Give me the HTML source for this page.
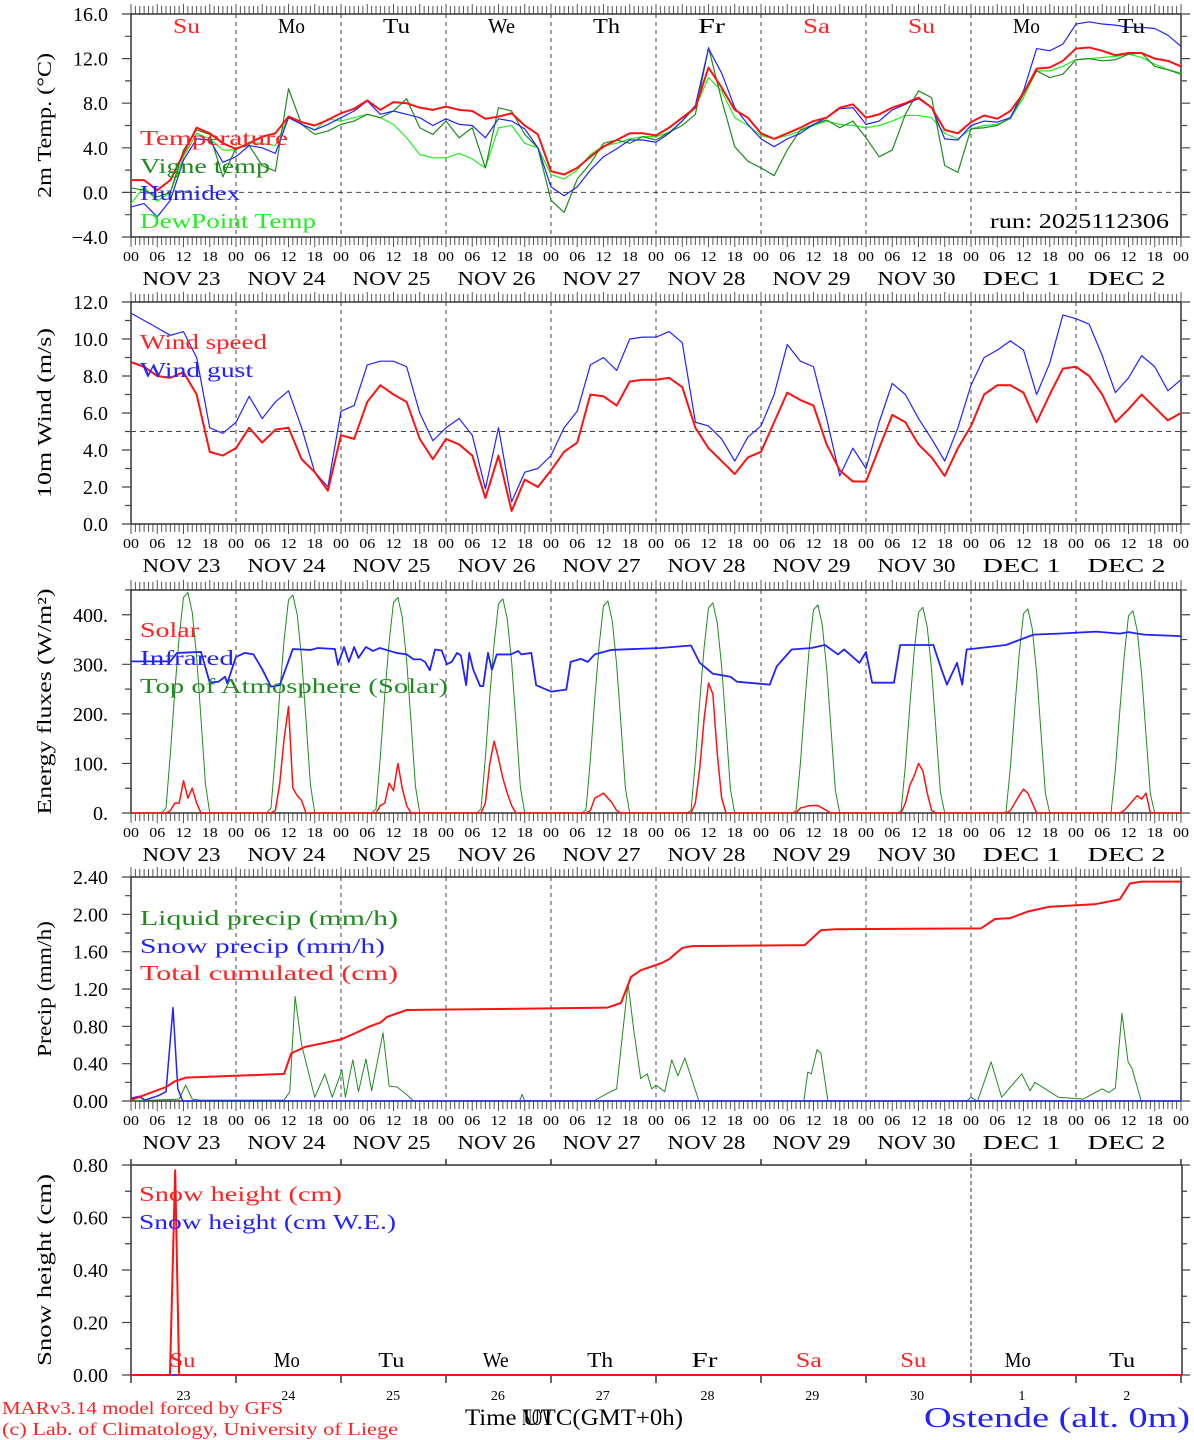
<!DOCTYPE html>
<html><head><meta charset="utf-8">
<style>
html,body{margin:0;padding:0;background:#fff;}
svg{display:block;}
text{font-family:"Liberation Serif",serif;}
</style></head>
<body>
<svg id="chart" width="1194" height="1440" viewBox="0 0 1194 1440" xmlns="http://www.w3.org/2000/svg"></svg>
<script>
// ===== DATA =====
// 3-hourly series, hour = 3*i, i = 0..80 (Nov 23 00 UTC -> Dec 3 00 UTC)
const tempT = [1.1,1.1,0.2,1.1,3.5,5.8,5.3,4.4, 3.9,4.4,5.0,5.3,6.8,6.3,6.0,6.5, 7.1,7.5,8.25,7.4,8.1,8.0,7.6,7.4, 7.7,7.4,7.3,6.6,6.8,7.1,6.0,5.2, 1.9,1.6,2.2,3.2,4.1,4.7,5.3,5.3, 5.1,5.8,6.7,7.6,11.2,9.4,7.4,6.7, 5.3,4.8,5.3,5.8,6.4,6.7,7.6,7.9, 6.7,7.0,7.6,8.0,8.5,7.6,5.6,5.3, 6.3,6.9,6.6,7.3,8.9,11.1,11.2,11.8, 12.9,13.0,12.7,12.3,12.5,12.5,12.0,11.8,11.3];
const tempVigne = [0.4,0.2,-0.4,0.0,3.8,5.6,5.2,1.4, 4.0,4.2,2.4,1.9,9.3,6.1,5.2,5.5, 6.1,6.4,7.0,6.7,7.3,8.4,5.8,5.2, 6.4,4.9,5.8,2.2,7.6,7.3,5.2,4.0, -0.7,-1.8,1.2,2.6,4.4,4.7,4.4,5.0, 4.7,5.4,6.0,7.0,13.0,8.3,4.1,2.8, 2.2,1.5,3.8,5.6,6.1,6.5,5.8,6.4, 4.9,3.2,3.8,7.0,9.1,8.5,2.4,1.8, 5.7,5.8,6.0,6.7,8.8,10.9,10.3,10.6, 11.9,12.0,11.8,11.9,12.4,12.5,11.3,11.0,10.6];
const humidex = [-1.3,-1.0,-2.2,-0.7,2.9,4.8,4.7,2.7, 3.2,4.2,4.0,3.5,6.7,6.1,5.6,6.1, 6.7,7.3,8.2,7.0,7.3,7.0,6.7,6.0, 6.6,6.1,6.0,4.9,6.6,6.4,5.7,4.0, 0.5,-0.3,0.5,2.0,3.2,3.9,4.7,4.7, 4.5,5.3,6.4,7.8,12.9,10.7,7.6,6.1, 4.8,4.1,4.8,5.3,6.1,6.7,7.5,7.6, 6.1,6.4,7.4,7.9,8.4,7.6,4.8,4.7, 6.0,6.4,6.3,6.7,9.1,12.9,12.7,13.3, 15.1,15.3,15.1,15.0,14.8,14.8,14.7,14.1,13.1];
const dewPoint = [-1.0,0.5,-0.8,0.0,3.2,5.3,4.8,3.8, 3.8,4.5,4.4,4.2,6.8,6.1,5.6,6.6, 6.4,6.7,7.0,6.7,6.1,4.9,3.4,3.1, 3.1,3.5,3.0,2.2,5.8,6.0,4.4,4.0, 1.6,1.2,2.0,3.4,4.2,4.4,4.8,5.0, 5.0,5.4,6.4,7.6,10.3,9.1,6.7,6.0, 5.1,4.8,5.1,5.5,6.0,6.4,6.1,6.0, 5.8,6.0,6.4,6.9,6.9,6.7,5.3,4.8, 5.7,6.0,6.1,6.6,8.5,10.9,10.9,11.3, 11.9,12.0,12.1,12.2,12.4,12.1,11.5,11.0,10.7];
const windSpeed = [8.75,8.5,8.0,7.9,8.2,7.0,3.9,3.7, 4.1,5.2,4.4,5.1,5.2,3.5,2.8,1.8, 4.8,4.6,6.6,7.5,7.0,6.6,4.6,3.5, 4.6,4.3,3.7,1.4,3.7,0.7,2.4,2.0, 2.9,3.9,4.4,7.0,6.9,6.4,7.7,7.8, 7.8,7.9,7.4,5.2,4.1,3.4,2.7,3.6, 3.9,5.5,7.1,6.7,6.4,4.3,2.9,2.3, 2.3,4.1,5.9,5.5,4.3,3.6,2.6,4.1, 5.3,7.0,7.5,7.5,7.1,5.5,7.0,8.4, 8.5,8.0,7.0,5.5,6.2,7.0,6.3,5.6,6.0];
const windGust = [11.4,11.0,10.6,10.2,10.4,9.0,5.2,4.9, 5.5,6.9,5.7,6.6,7.2,5.2,2.8,2.0, 6.1,6.4,8.6,8.8,8.8,8.5,6.0,4.5, 5.2,5.7,4.8,1.9,5.2,1.2,2.8,3.0, 3.7,5.2,6.1,8.6,9.0,8.3,10.0,10.1, 10.1,10.4,9.8,5.5,5.3,4.6,3.4,4.7, 5.3,7.0,9.7,8.8,8.5,5.7,2.6,4.1, 3.0,5.5,7.6,7.0,5.7,4.6,3.4,5.2, 7.5,9.0,9.4,9.9,9.4,7.0,8.7,11.3, 11.1,10.8,9.1,7.1,7.9,9.1,8.5,7.2,7.8];
// Hourly radiation per day, hours 7..18 UTC
const toaDaily = [
 [0,10,120,245,355,435,445,405,315,190,60,0],
 [0,10,118,242,350,430,440,400,312,188,58,0],
 [0,8,115,238,345,425,435,395,308,185,55,0],
 [0,8,112,235,342,422,432,392,305,182,52,0],
 [0,6,108,230,338,418,428,388,300,178,50,0],
 [0,5,105,225,334,414,424,384,296,175,48,0],
 [0,4,100,220,330,410,420,380,292,170,45,0],
 [0,3,96,215,325,405,415,375,288,166,42,0],
 [0,2,92,210,320,402,412,372,284,162,40,0],
 [0,0,88,205,315,398,408,368,280,158,38,0]];
const solarDaily = [
 [0,0,5,20,20,65,30,50,20,0,0,0],
 [0,0,5,60,150,215,50,35,25,0,0,0],
 [0,0,15,20,60,45,100,50,15,0,0,0],
 [0,0,20,100,145,110,70,40,15,0,0,0],
 [0,0,5,30,35,40,30,20,5,0,0,0],
 [0,0,20,90,190,262,240,120,30,0,0,0],
 [0,0,10,12,15,15,15,10,5,0,0,0],
 [0,0,20,55,75,100,85,40,5,0,0,0],
 [0,0,5,20,35,48,40,20,0,0,0,0],
 [0,0,0,0,5,15,25,35,28,40,0,0]];
const irHours = [0,9,10.5,16,18,20,21.5,22,24,26,28,30,32,34,37,41,42.7,46.6,47.3,48.7,49.8,51,52,53.7,55.3,56.9,60.7,63,64.6,66.2,67.2,68.3,69.5,71,72.2,73.3,74.5,75.4,76.6,77.3,78.2,79.8,80.5,81.6,82.5,83.6,86.8,88.5,89.2,91.5,92.6,96,99.5,100.5,102.8,104.4,106,109.7,121,128,130,133,137,138.5,146,147.6,151,155.5,158.6,161.6,163,166.5,168,169.4,174.4,175.8,183.4,185,186.5,188.8,190,191,200,206.3,212,220.6,226,228,231.5,240];
const irValues = [306,306,323,325,263,265,275,262,315,323,320,290,255,258,331,329,333,331,299,335,305,335,313,335,327,333,323,320,310,310,305,288,330,328,300,305,323,318,258,323,290,256,256,323,289,320,320,327,320,323,258,245,249,305,311,305,320,329,333,338,303,281,275,265,259,296,330,333,339,320,330,303,325,263,263,339,339,296,259,303,259,330,339,360,362,366,362,365,360,357];
const liqHours = [0,11,12.5,14,16,35,36.3,37.5,39,42,44.3,46,48.2,49,50.7,52,53.7,55,57.6,59,60.8,63,64.6,88.8,89.4,90,105.8,108.8,111,113.6,115,116.5,118,119,120,122,123.6,125,126.6,129.8,153.8,154.7,155.5,156.8,157.7,159.3,191,192,193.5,196.6,199,203.6,205.5,206.6,212,217.6,222,223.5,225,226.5,227.9,228.8,230.9,240];
const liqValues = [0,0.02,0.17,0.02,0.01,0.01,0.1,1.12,0.6,0.04,0.29,0.04,0.33,0.04,0.44,0.10,0.45,0.11,0.73,0.16,0.15,0.07,0,0,0.07,0,0,0.08,0.13,1.26,0.73,0.24,0.29,0.13,0.17,0.10,0.44,0.27,0.46,0,0,0.31,0.29,0.55,0.51,0,0,0.04,0,0.42,0.04,0.29,0.11,0.20,0.04,0.02,0.13,0.09,0.14,0.94,0.42,0.35,0,0];
const snowHours = [0,1.8,3.2,6.4,8,9.6,10.7,11.8,240];
const snowValues = [0.03,0.05,0.01,0.06,0.10,1.0,0.13,0,0];
const totHours = [0,8,10,12.5,35,36.6,39.8,45,48,51.4,54.6,57,58.5,63,73,108.8,112,114.3,116.5,121.4,123,126,128.3,154,157.7,161,194.3,197.5,201,205,209.8,220.5,226,228.3,231,240];
const totValues = [0.01,0.15,0.21,0.25,0.29,0.51,0.58,0.63,0.66,0.73,0.80,0.84,0.90,0.975,0.98,1.00,1.05,1.33,1.40,1.48,1.52,1.64,1.66,1.67,1.83,1.84,1.85,1.95,1.96,2.03,2.08,2.11,2.16,2.33,2.35,2.35];
const snowHeightHours = [0,8.9,10.1,11,240];
const snowHeightValues = [0,0,0.78,0,0];
const snowWEHours = [0,240];
const snowWEValues = [0,0];
const dayNames = ["Su","Mo","Tu","We","Th","Fr","Sa","Su","Mo","Tu"];
const dateLabels = ["NOV  23","NOV  24","NOV  25","NOV  26","NOV  27","NOV  28","NOV  29","NOV  30","DEC   1","DEC   2"];
const dayNumbers = ["23","24","25","26","27","28","29","30","1","2"];
const hourLabels = ["00","06","12","18"];

// ===== DRAW =====
const NS="http://www.w3.org/2000/svg";
const svg=document.getElementById('chart');
const X0=131, PXH=4.375;
function xh(h){return X0+h*PXH;}
function mk(tag,attrs,parent){const e=document.createElementNS(NS,tag);for(const k in attrs)e.setAttribute(k,attrs[k]);(parent||svg).appendChild(e);return e;}
const panels=[
 {name:'temperature',top:14,bot:237,min:-4,max:16,major:4,minor:2,dec:1,title:'2m Temp. (\u00B0C)',tl:145},
 {name:'wind',top:302,bot:524,min:0,max:12,major:2,minor:1,dec:1,title:'10m Wind (m/s)',tl:170},
 {name:'energy',top:590,bot:813,min:0,max:450,major:100,minor:50,dec:-1,title:'Energy fluxes (W/m\u00B2)',tl:226},
 {name:'precip',top:877,bot:1101,min:0,max:2.4,major:0.4,minor:0.2,dec:2,title:'Precip (mm/h)',tl:136},
 {name:'snow',top:1165,bot:1375,min:0,max:0.8,major:0.2,minor:0.1,dec:2,title:'Snow height (cm)',tl:192}];
function yf(p){return v=>p.bot-(v-p.min)/(p.max-p.min)*(p.bot-p.top);}
function fmt(v,dec){if(dec<0)return Math.round(v)+'.';let s=Math.abs(v).toFixed(dec);return (v<-1e-9?'\u2212':'')+s;}

function text(str,x,y,size,color,anchor,name,extra){
  const a=Object.assign({x:x,y:y,'font-size':size,fill:color||'#000','text-anchor':anchor||'start'},extra||{});
  if(a.textLength)a.lengthAdjust='spacingAndGlyphs';
  const t=mk('text',a);
  
  
  t.setAttribute('xml:space','preserve');
  t.textContent=str;return t;
}
function polyline(hours,vals,p,color,w,name){
  const y=yf(p);let d='';
  for(let i=0;i<vals.length;i++){d+=(i?'L':'M')+xh(hours[i]).toFixed(2)+','+y(vals[i]).toFixed(2);}
  const e=mk('path',{d:d,fill:'none',stroke:color,'stroke-width':w,'stroke-linejoin':'round'});
  
  
  return e;
}
function series3h(vals,p,color,w,name){return polyline(vals.map((v,i)=>3*i),vals,p,color,w,name);}
function seriesDaily(rows,p,color,w,name){
  const hs=[],vs=[];hs.push(0);vs.push(0);
  rows.forEach((r,d)=>r.forEach((v,k)=>{hs.push(d*24+7+k);vs.push(v);}));
  hs.push(240);vs.push(0);
  return polyline(hs,vs,p,color,w,name);
}

panels.forEach((p,pi)=>{
  const g=mk('g',{});
  
  
  const y=yf(p);
  if(pi<4){
    for(let d=1;d<10;d++){const l=mk('line',{x1:xh(d*24),x2:xh(d*24),y1:p.top,y2:p.bot,stroke:'#444','stroke-width':1,'stroke-dasharray':'4,4'},g);
      }
    let d='';for(let h=0;h<=240;h++){const L=(h%6==0)?10:8;d+='M'+xh(h)+','+(p.top-L)+'V'+p.top+'M'+xh(h)+','+p.bot+'V'+(p.bot+L);}
    const tk=mk('path',{d:d,stroke:'#555','stroke-width':1,fill:'none'},g);
    
    for(let h=0;h<=240;h+=6){text(hourLabels[(h/6)%4],xh(h),p.bot+24,14,'#000','middle','hour-tick-label',{textLength:16});}
    for(let dd=0;dd<10;dd++){text(dateLabels[dd],xh(dd*24+12)-2,p.bot+48,20,'#000','middle','date-label',{textLength:78});}
    const bx=mk('rect',{x:X0,y:p.top,width:1050,height:p.bot-p.top,fill:'none',stroke:'#333','stroke-width':1.5},g);
    
  } else {
    const l=mk('line',{x1:xh(192),x2:xh(192),y1:p.top-12,y2:p.bot+8,stroke:'#333','stroke-width':1,'stroke-dasharray':'4,3'},g);
    
    let d='M'+X0+','+p.top+'H1182M'+X0+','+p.top+'V'+p.bot+'H1182M1182,'+p.top+'V'+p.bot;
    for(let dd=0;dd<=10;dd++){d+='M'+xh(dd*24)+','+(p.top-6)+'V'+p.top+'M'+xh(dd*24)+','+p.bot+'V'+(p.bot+8);}
    const fr=mk('path',{d:d,stroke:'#333','stroke-width':1.5,fill:'none'},g);
    
    for(let dd=0;dd<10;dd++){
      text(dayNames[dd],xh(dd*24+12)-1-dd*0.6,p.bot-8,21,(dd==0||dd==6||dd==7)?'#f22':'#000','middle','day-name',{textLength:26});
      text(dayNumbers[dd],xh(dd*24+12)-dd*0.2,p.bot+25,14,'#000','middle','day-number');
    }
  }
  let d='';
  const nMin=Math.round((p.max-p.min)/p.minor);
  for(let k=0;k<=nMin;k++){const v=p.min+k*p.minor;const yy=y(v);const isMaj=Math.abs(Math.round((v-p.min)/p.major)*p.major-(v-p.min))<1e-6;
    d+='M'+(X0-(isMaj?9:6))+','+yy+'H'+X0+'M1182,'+yy+'H'+(1182+(isMaj?8:5));
    if(isMaj){text(fmt(v,p.dec),108,yy+7,20,'#000','end','y-tick-label');}}
  const yt=mk('path',{d:d,stroke:'#444','stroke-width':1.2,fill:'none'},g);
  
  const cy=(p.top+p.bot)/2;
  text(p.title,0,0,20,'#000','middle','y-axis-title',{transform:'translate(51,'+cy+') rotate(-90)',textLength:p.tl});
});

const P=panels;
(function(){const y=yf(P[0]);const l=mk('line',{x1:X0,x2:1181,y1:y(0),y2:y(0),stroke:'#444','stroke-dasharray':'5,4','stroke-width':1});
 })();
series3h(dewPoint,P[0],'#22ee22',1.2,'dewpoint-line');
series3h(tempVigne,P[0],'#1e8c1e',1.2,'vigne-temp-line');
series3h(humidex,P[0],'#2222ff',1.2,'humidex-line');
series3h(tempT,P[0],'#ff1111',2,'temperature-line');
text('Temperature',140,145,21,'#ff2222','start','legend-temperature',{textLength:148});
text('Vigne temp',140,173,21,'#1e8c1e','start','legend-vigne-temp',{textLength:130});
text('Humidex',140,200,21,'#2222ff','start','legend-humidex',{textLength:100});
text('DewPoint Temp',140,228,21,'#22ee22','start','legend-dewpoint',{textLength:176});
text('run: 2025112306',990,228,21,'#000','start','run-label',{textLength:179});
dayNames.forEach((n,dd)=>{text(n,xh(dd*24+12)+3,33,21,(dd==0||dd==6||dd==7)?'#f22':'#000','middle','day-name',{textLength:27});});

(function(){const y=yf(P[1]);const l=mk('line',{x1:X0,x2:1181,y1:y(5),y2:y(5),stroke:'#444','stroke-dasharray':'5,4','stroke-width':1});
 })();
series3h(windGust,P[1],'#2222ff',1.2,'wind-gust-line');
series3h(windSpeed,P[1],'#ff1111',2,'wind-speed-line');
text('Wind speed',140,349,21,'#ff2222','start','legend-wind-speed',{textLength:127});
text('Wind gust',140,377,21,'#2222ff','start','legend-wind-gust',{textLength:113});

seriesDaily(toaDaily,P[2],'#1e8c1e',1,'toa-solar-line');
polyline(irHours,irValues,P[2],'#2222ff',1.8,'infrared-line');
seriesDaily(solarDaily,P[2],'#ff1111',1.5,'solar-line');
text('Solar',140,637,21,'#ff2222','start','legend-solar',{textLength:59});
text('Infrared',140,665,21,'#2222ff','start','legend-infrared',{textLength:94});
text('Top of Atmosphere (Solar)',140,693,21,'#1e8c1e','start','legend-toa',{textLength:308});

polyline(liqHours,liqValues,P[3],'#1e8c1e',1,'liquid-precip-line');
polyline(snowHours,snowValues,P[3],'#2222ff',1.5,'snow-precip-line');
polyline(totHours,totValues,P[3],'#ff1111',2,'total-cumulated-line');
text('Liquid precip (mm/h)',140,925,21,'#1e8c1e','start','legend-liquid-precip',{textLength:258});
text('Snow precip (mm/h)',140,953,21,'#2222ff','start','legend-snow-precip',{textLength:245});
text('Total cumulated (cm)',140,980,21,'#ff2222','start','legend-total-cumulated',{textLength:258});

polyline(snowWEHours,snowWEValues,P[4],'#2222ff',1.5,'snow-we-line');
polyline(snowHeightHours,snowHeightValues,P[4],'#ff1111',2,'snow-height-line');
text('Snow height (cm)',139,1201,21,'#ff2222','start','legend-snow-height',{textLength:203});
text('Snow height (cm W.E.)',139,1229,21,'#2222ff','start','legend-snow-we',{textLength:257});

text('MARv3.14 model forced by GFS',2,1414,18,'#ff2222','start','model-credit',{textLength:281});
text('(c) Lab. of Climatology, University of Liege',2,1435,18,'#ff2222','start','lab-credit',{textLength:396});
text('Time UTC(GMT+0h)',465,1425,23,'#000','start','x-axis-title',{textLength:218});
text('NOV',522,1425,23,'#000','start','x-axis-title-overlap',{textLength:30});
text('Ostende (alt. 0m)',924,1427,29,'#2222ff','start','station-name',{textLength:266});
</script>
</body></html>
